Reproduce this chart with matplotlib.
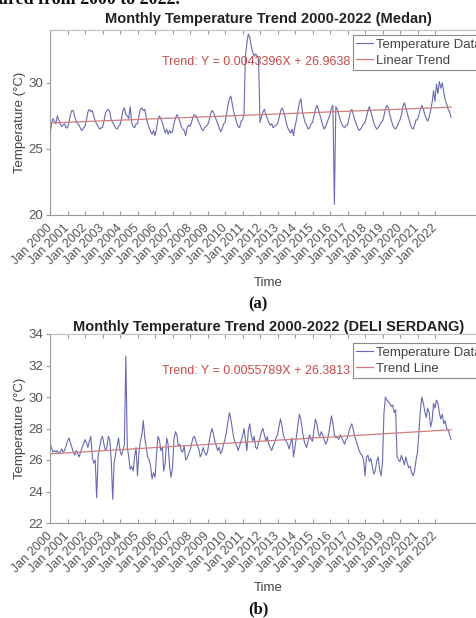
import matplotlib
matplotlib.use('Agg')
import matplotlib.pyplot as plt
import matplotlib.transforms as mtransforms
import numpy as np

plt.rcParams['font.family'] = ['Liberation Sans', 'DejaVu Sans']

# ---------------- data ----------------
years = list(range(2000, 2023))
tick_labels = [f"Jan {y}" for y in years]

medan_temp = [
    26.0, 26.9, 27.3, 27.1, 26.9, 27.5, 27.2, 26.9, 26.7, 26.8, 26.9, 26.6,
    26.6, 27.0, 27.6, 27.9, 27.9, 27.4, 27.1, 26.9, 26.8, 26.5, 26.4, 26.6,
    26.7, 27.2, 27.8, 28.0, 27.8, 27.9, 27.5, 27.1, 26.9, 26.7, 26.5, 26.6,
    26.6, 27.1, 27.7, 27.9, 28.0, 27.8, 27.2, 27.0, 26.8, 26.6, 26.5, 26.7,
    26.8, 27.3, 27.9, 28.1, 27.6, 27.5, 27.3, 28.2, 27.0, 26.7, 26.6, 26.9,
    26.9, 27.5, 28.0, 28.1, 27.9, 28.0, 27.4, 26.9, 26.6, 26.3, 26.1, 26.4,
    26.0, 26.5, 27.2, 27.5, 27.3, 27.0, 26.6, 26.2, 26.5, 26.1, 26.4, 26.2,
    26.3, 26.9, 27.3, 27.6, 27.4, 27.1, 26.7, 26.5, 26.4, 26.0, 26.6, 26.8,
    26.7, 27.0, 27.4, 27.6, 27.5, 27.3, 27.0, 26.8, 26.5, 26.4, 26.6, 26.7,
    26.8, 27.1, 27.6, 27.9, 27.8, 27.5, 27.2, 26.9, 26.6, 26.3, 26.5, 26.9,
    27.0, 27.6, 28.3, 28.8, 29.0, 28.4, 27.8, 27.4, 27.0, 26.7, 26.6, 27.1,
    27.2, 27.6, 32.0, 33.0, 33.7, 33.4, 32.8, 32.3, 32.0, 32.2, 32.0, 31.8,
    27.0, 27.4, 27.8, 28.0, 27.6, 27.3, 27.0, 26.8, 26.9, 26.6, 26.7, 26.8,
    26.9, 27.3, 27.8, 28.1, 27.9, 27.5, 27.0, 26.6, 26.4, 26.2, 26.5, 26.0,
    26.7, 27.2, 27.9, 28.5, 28.8, 27.9, 27.4, 27.0, 26.8, 26.5, 26.6, 26.9,
    27.0, 27.5, 28.0, 28.3, 28.0, 27.6, 27.2, 26.8, 26.5, 26.7, 27.0, 27.3,
    27.6, 28.1, 28.3, 20.8, 28.2, 28.0, 27.6, 27.2, 26.9, 26.7, 26.6, 26.8,
    26.8, 27.3, 27.8, 28.0, 27.6, 27.2, 26.9, 26.6, 26.4, 26.5, 26.7, 26.9,
    27.0, 27.4, 27.9, 28.2, 27.8, 27.4, 27.0, 26.7, 26.5, 26.6, 26.8, 27.0,
    27.1, 27.5, 28.0, 28.3, 28.1, 27.6, 27.2, 26.8, 26.6, 26.5, 26.7, 27.0,
    27.2, 27.6, 28.2, 28.5, 28.1, 27.7, 27.3, 26.9, 26.6, 26.5, 26.8, 27.2,
    27.2, 27.6, 28.0, 28.3, 28.0, 27.6, 27.3, 27.1, 27.4, 27.9, 28.5, 29.4,
    28.6, 29.9, 29.2, 30.1, 29.6, 30.0, 29.3, 28.7, 28.4, 28.0, 27.8, 27.4,
]

deli_temp = [
    27.1, 26.8, 26.5, 26.6, 26.5, 26.6, 26.4, 26.5, 26.7, 26.5, 26.6, 26.9,
    27.2, 27.4, 27.1, 26.8, 26.5, 26.3, 26.6, 26.4, 26.2, 26.5, 26.8, 27.0,
    27.3, 27.1, 26.8, 27.2, 27.5, 26.2, 25.8, 26.0, 23.6, 26.2, 26.8, 27.3,
    27.5, 27.0, 26.6, 26.8, 27.5, 27.3, 26.0, 23.5, 25.8, 26.4, 26.9, 27.4,
    26.6, 26.3, 26.6, 27.0, 32.6, 26.8, 26.2, 25.4, 25.6, 25.3, 26.2, 26.8,
    25.0, 26.5, 27.2, 27.6, 28.5, 27.4, 26.8, 26.2, 26.0, 25.6, 24.8, 25.2,
    24.9, 26.3, 27.5, 27.3, 26.6, 26.8, 25.3, 25.8, 27.4, 27.0, 25.6, 24.9,
    25.5, 27.3, 27.8, 27.6, 26.9, 27.0, 26.6, 26.5, 26.9, 26.0, 26.1, 26.4,
    26.6, 27.0, 27.4, 27.5, 27.2, 26.9, 26.7, 26.2, 26.4, 26.8, 26.5, 26.3,
    26.5, 27.1, 27.6, 28.0, 27.7, 27.2, 26.9, 26.6, 26.8, 26.4, 26.6, 27.0,
    27.3, 27.8, 28.4, 29.0, 28.6, 28.0, 27.4, 27.1, 26.9, 26.6, 26.9, 27.2,
    27.5, 28.0, 27.3, 26.6, 27.9, 28.3, 27.6, 27.2, 27.5, 26.8, 26.7, 27.1,
    27.4, 27.8, 28.0, 27.6, 27.2, 27.5, 27.0, 26.8, 26.6, 26.9, 27.1, 27.4,
    27.6, 28.1, 28.6, 28.2, 27.6, 27.3, 27.2, 27.0, 26.7, 27.1, 27.4, 26.2,
    26.8, 27.5, 28.2, 28.9, 28.6, 27.9, 27.3, 27.0, 26.8, 27.2, 27.6, 27.3,
    27.2, 27.9, 28.6, 28.3, 27.7, 27.5, 27.8, 27.6, 27.3, 27.0, 27.2, 27.6,
    28.2, 28.8, 28.3, 27.6, 27.4, 27.5, 27.3, 27.6, 27.4, 27.2, 27.0, 27.3,
    27.4, 27.8, 28.1, 28.3, 27.9, 27.5, 27.2, 26.9, 26.6, 26.4, 26.3, 26.0,
    25.0, 26.2, 26.3, 25.9, 26.1, 25.6, 25.1, 25.3, 25.9, 26.2, 25.4, 25.0,
    25.8, 29.0, 30.0, 29.8, 29.7, 29.6, 29.4, 29.5, 29.0, 29.2, 26.2, 26.0,
    25.9, 26.3, 26.0, 25.7, 26.2, 25.8, 25.5, 25.6, 25.2, 25.0, 25.3, 26.0,
    26.5, 27.8, 29.2, 30.0, 29.6, 29.1, 28.7, 29.3, 29.0, 28.1, 28.5, 29.6,
    29.3, 29.8, 29.6, 29.0, 28.6, 28.9, 28.3, 28.5, 28.0, 27.9, 27.6, 27.3,
]

medan_slope, medan_intercept = 0.0043396, 26.9638
deli_slope, deli_intercept = 0.0055789, 26.3813

panels = [
    dict(title="Monthly Temperature Trend 2000-2022 (Medan)", data=medan_temp,
         slope=medan_slope, intercept=medan_intercept,
         legend=["Temperature Data", "Linear Trend"],
         ylim=(20, 34), yticks=[20, 25, 30], tag="(a)"),
    dict(title="Monthly Temperature Trend 2000-2022 (DELI SERDANG)", data=deli_temp,
         slope=deli_slope, intercept=deli_intercept,
         legend=["Temperature Data", "Trend Line"],
         ylim=(22, 34), yticks=[22, 24, 26, 28, 30, 32, 34], tag="(b)"),
]

# ---------------- figure ----------------
W, H = 477, 618
fig = plt.figure(figsize=(W / 100, H / 100), dpi=100)
fig.patch.set_facecolor('white')

ax_w_px = 437.5
layouts = [
    dict(left=50, top=30, bottom=215, title_pad=5, legend_top=35, text_y=61.7,
         xlabel_top=277, tag_y=304),
    dict(left=50, top=334, bottom=523, title_pad=2, legend_top=343, text_y=371,
         xlabel_top=582, tag_y=609),
]

data_color = '#6a6ab2'
trend_color = '#d07c7c'
tick_color = '#555555'
spine_color = '#9a9a9a'

# cropped caption line at the very top of the page
fig.text(-0.004, 1 - 4 / H, "ured from 2000 to 2022.", fontsize=13, fontweight='bold',
         family=['Liberation Serif', 'DejaVu Serif'], ha='left', va='baseline',
         color='#111111')

shift = mtransforms.ScaledTranslation(5 / 100, 0, fig.dpi_scale_trans)

for p, L in zip(panels, layouts):
    h_px = L['bottom'] - L['top']
    ax = fig.add_axes([L['left'] / W, 1 - L['bottom'] / H, ax_w_px / W, h_px / H])
    n = len(p['data'])
    t = 2000 + np.arange(n) / 12.0
    idx = np.arange(1, n + 1)
    trend = p['intercept'] + p['slope'] * idx
    l1, = ax.plot(t, p['data'], color=data_color, lw=0.8)
    l2, = ax.plot(t, trend, color=trend_color, lw=0.9)

    ax.set_xlim(2000, 2025)
    ax.set_ylim(*p['ylim'])
    ax.set_yticks(p['yticks'])
    ax.set_xticks(years)
    ax.set_xticklabels(tick_labels, rotation=45, ha='right', va='center',
                       rotation_mode='anchor')
    for lab in ax.get_xticklabels():
        lab.set_transform(lab.get_transform() + shift)
    ax.tick_params(axis='x', direction='in', length=3, top=True, labelsize=9,
                   colors=spine_color, labelcolor=tick_color, pad=8)
    ax.tick_params(axis='y', direction='out', length=3, labelsize=9.5,
                   colors=spine_color, labelcolor=tick_color, pad=2)
    for s in ax.spines.values():
        s.set_color(spine_color)
        s.set_linewidth(0.8)
    ax.spines['top'].set_color('#c0c0c0')

    ax.set_title(p['title'], fontsize=10.5, fontweight='bold', color='#222222',
                 pad=L['title_pad'])
    ax.set_ylabel("Temperature (°C)", fontsize=9.5, color='#444444')
    ax.yaxis.set_label_coords(-(L['left'] - 26) / ax_w_px, 0.5)
    ax.set_xlabel("Time", fontsize=9.5, color='#444444', va='top')
    ax.xaxis.set_label_coords((268 - L['left']) / ax_w_px,
                              -(L['xlabel_top'] - L['bottom']) / h_px)

    leg = ax.legend([l1, l2], p['legend'], loc='upper left',
                    bbox_to_anchor=((353 - L['left']) / ax_w_px,
                                    1 - (L['legend_top'] - L['top']) / h_px),
                    borderaxespad=0, fontsize=9.5, handlelength=1.3,
                    handletextpad=0.2, borderpad=0.25, labelspacing=0.3,
                    fancybox=False, framealpha=1, edgecolor='#8a8a8a')
    for txt in leg.get_texts():
        txt.set_color('#444444')
    leg.get_frame().set_linewidth(0.8)

    ax.text((350 - L['left']) / ax_w_px, (L['bottom'] - L['text_y']) / h_px,
            f"Trend: Y = {p['slope']:.7f}X + {p['intercept']:.4f}",
            transform=ax.transAxes, ha='right', va='center', fontsize=9,
            color='#c84a4a')

    fig.text(258 / W, 1 - L['tag_y'] / H, p['tag'], fontsize=12, fontweight='bold',
             family=['Liberation Serif', 'DejaVu Serif'], ha='center', va='center',
             color='#111111')

fig.savefig('out.png', dpi=100, facecolor='white')
